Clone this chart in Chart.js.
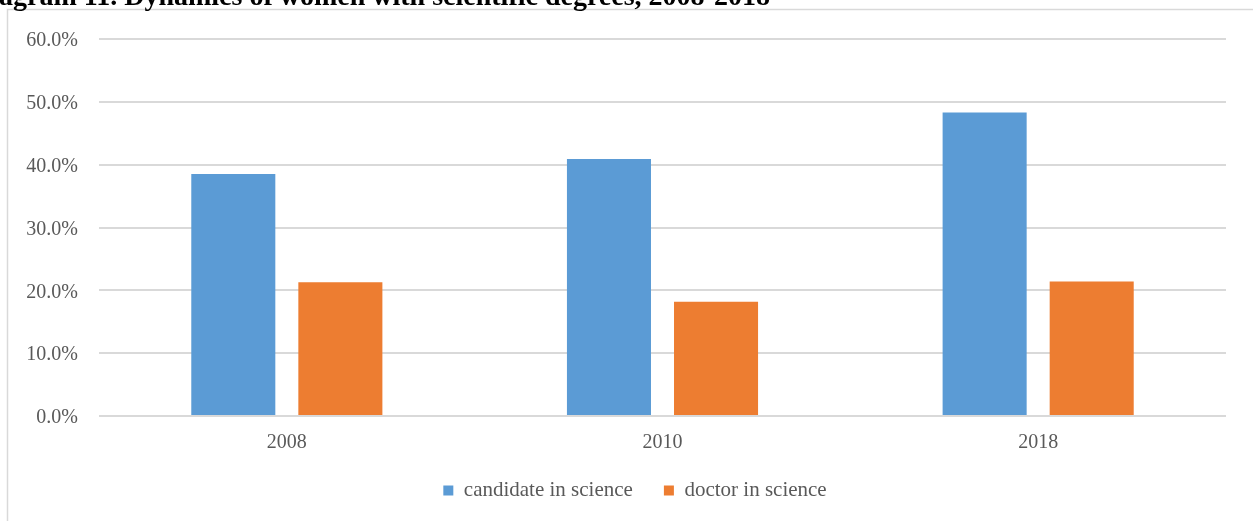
<!DOCTYPE html>
<html>
<head>
<meta charset="utf-8">
<script src="https://cdn.jsdelivr.net/npm/chart.js@4.4.1/dist/chart.umd.min.js"></script>
<style>
  body { margin: 0; background: #fff; }
  #wrap { width: 1253px; height: 521px; position: relative; }
</style>
</head>
<body>
<div id="wrap"><canvas id="grafico" width="1253" height="521"></canvas></div>
<script>
const anos = ['2008', '2010', '2018'];
const candidatos = [38.5, 40.9, 48.3];
const doutores = [21.3, 18.2, 21.4];
const marcasY = [0, 10, 20, 30, 40, 50, 60];
const titulo = 'agram 11. Dynamics of women with scientific degrees, 2008-2018';

const fonte = "'Liberation Serif', 'Times New Roman', serif";

// moldura, titulo cortado no topo e legenda deslocada
const moldura = {
  id: 'moldura',
  afterLayout(chart) {
    chart.legend.left = 44;
  },
  beforeDraw(chart) {
    const c = chart.ctx;
    c.save();
    c.fillStyle = '#fff';
    c.fillRect(0, 0, chart.width, chart.height);
    c.strokeStyle = '#d9d9d9';
    c.lineWidth = 1.5;
    c.strokeRect(7.5, 9.5, 1260, 600);
    c.restore();
  },
  afterDraw(chart) {
    const c = chart.ctx;
    c.save();
    c.fillStyle = '#000';
    c.font = "bold 28px " + fonte;
    c.textBaseline = 'alphabetic';
    c.fillText(titulo, -1, 5);
    c.restore();
  }
};

const ctx = document.getElementById('grafico').getContext('2d');
new Chart(ctx, {
  type: 'bar',
  data: {
    labels: anos,
    datasets: [{
      label: 'candidate in science',
      data: candidatos,
      backgroundColor: '#5B9BD5',
      categoryPercentage: 0.57,
      barPercentage: 0.785
    }, {
      label: 'doctor in science',
      data: doutores,
      backgroundColor: '#ED7D31',
      categoryPercentage: 0.57,
      barPercentage: 0.785
    }]
  },
  options: {
    responsive: false,
    animation: false,
    layout: { padding: { left: 0, right: 27, top: 39, bottom: 10 } },
    plugins: {
      tooltip: { enabled: false },
      legend: {
        position: 'bottom',
        labels: {
          boxWidth: 10,
          boxHeight: 10,
          padding: 31,
          color: '#595959',
          font: { family: fonte, size: 21 }
        }
      }
    },
    scales: {
      x: {
        grid: { display: false },
        border: { display: false },
        ticks: { color: '#595959', padding: 7, font: { family: fonte, size: 20 } },
        afterFit: (s) => { s.height = 33; }
      },
      y: {
        min: 0,
        max: 60,
        afterBuildTicks: (s) => { s.ticks = marcasY.map(v => ({ value: v })); },
        grid: { color: '#d9d9d9', lineWidth: 2, drawTicks: false },
        border: { display: false },
        ticks: {
          color: '#595959',
          padding: 21,
          labelOffset: 2,
          font: { family: fonte, size: 20 },
          callback: (v) => v.toFixed(1) + '%'
        },
        afterFit: (s) => { s.width = 99; }
      }
    }
  },
  plugins: [moldura]
});
</script>
</body>
</html>
